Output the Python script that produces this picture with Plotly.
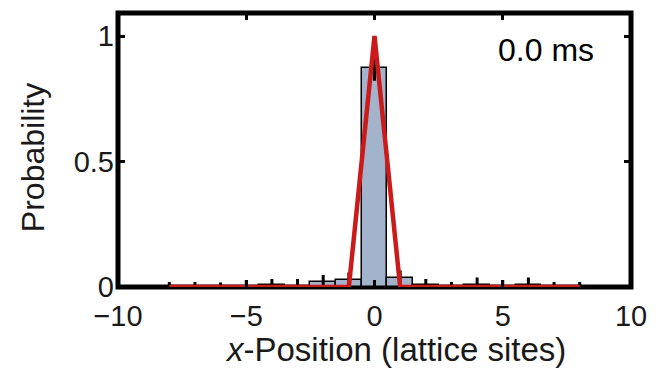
import plotly.graph_objects as go

# Lattice site positions and measured occupation probabilities at t = 0.0 ms
sites = [-8, -7, -6, -5, -4, -3, -2, -1, 0, 1, 2, 3, 4, 5, 6, 7, 8]
prob = [0.0, 0.0, 0.0, 0.0, 0.008, 0.0, 0.018, 0.028, 0.872, 0.036, 0.008,
        0.0, 0.008, 0.0, 0.008, 0.0, 0.0]
prob_err = [0.02, 0.02, 0.018, 0.028, 0.024, 0.032, 0.03, 0.03, 0.05, 0.03,
            0.024, 0.02, 0.03, 0.028, 0.03, 0.02, 0.02]

# Theoretical distribution (fully localized on the central site)
theory = [0, 0, 0, 0, 0, 0, 0, 0, 1, 0, 0, 0, 0, 0, 0, 0, 0]

x_ticks = [-10, -5, 0, 5, 10]
x_tick_text = ["\u221210", "\u22125", "0", "5", "10"]
y_ticks = [0, 0.5, 1]
y_tick_text = ["0", "0.5", "1"]

FONT = "Liberation Sans, Arial, sans-serif"
TXT = "#1a1a1a"

W, H = 659, 370
L, R, T, B = 118, 21, 13, 83
PW, PH = W - L - R, H - T - B


def px_x(p):
    return (p - L) / PW


def px_y(p):
    return (H - B - p) / PH


# empty bins get no outline so only their error marks remain
edge_widths = [1.5 if p > 0 else 0 for p in prob]

fig = go.Figure()

fig.add_trace(go.Bar(
    x=sites, y=prob, width=1.0,
    marker=dict(color="#a3b3cb", line=dict(color="black", width=edge_widths)),
    error_y=dict(type="data", array=prob_err, visible=True,
                 color="black", thickness=3, width=0),
    showlegend=False,
))

fig.add_trace(go.Scatter(
    x=sites, y=theory, mode="lines",
    line=dict(color="#cc1a1a", width=4.5),
    cliponaxis=False, showlegend=False,
))

# frame around the plotting area, beneath the data
fig.add_shape(type="rect", xref="paper", yref="paper", x0=0, x1=1, y0=0, y1=1,
              line=dict(color="black", width=5), layer="below")

axis_common = dict(
    showline=False, mirror="allticks",
    ticks="inside", ticklen=7, tickwidth=3, tickcolor="black",
    showgrid=False, zeroline=False,
    tickfont=dict(family=FONT, size=29, color=TXT),
)

fig.update_layout(
    width=W, height=H,
    margin=dict(l=L, r=R, t=T, b=B),
    paper_bgcolor="white", plot_bgcolor="white",
    bargap=0,
    xaxis=dict(range=[-10, 10], tickvals=x_ticks, ticktext=x_tick_text,
               ticklabelstandoff=9, **axis_common),
    yaxis=dict(range=[0, 1.092], tickvals=y_ticks, ticktext=y_tick_text,
               ticklabelstandoff=3, **axis_common),
)

fig.add_annotation(
    x=px_x(603), y=px_y(50), xref="paper", yref="paper",
    xanchor="right", yanchor="middle",
    text="0.0 ms", showarrow=False,
    font=dict(family=FONT, size=32, color="black"),
)

fig.add_annotation(
    x=px_x(399), y=px_y(349), xref="paper", yref="paper",
    xanchor="center", yanchor="middle",
    text="<i>x</i>-Position (lattice sites)", showarrow=False,
    font=dict(family=FONT, size=33, color=TXT),
)

fig.add_annotation(
    x=px_x(32), y=px_y(158), xref="paper", yref="paper", textangle=-90,
    xanchor="center", yanchor="middle",
    text="Probability", showarrow=False,
    font=dict(family=FONT, size=32, color=TXT),
)

fig.write_html("out.html")
